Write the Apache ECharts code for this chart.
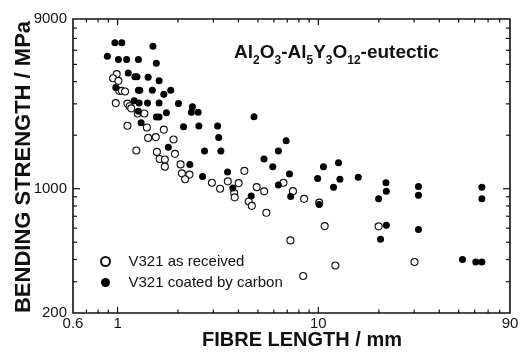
<!DOCTYPE html>
<html>
<head>
<meta charset="utf-8">
<script src="https://cdn.jsdelivr.net/npm/echarts@6/dist/echarts.min.js"></script>
<style>
  html, body { margin: 0; padding: 0; background: #fff; }
  #chart { width: 530px; height: 358px; }
</style>
</head>
<body>
<div id="chart"></div>
<script>
// Bending strength of Al2O3-Al5Y3O12 eutectic fibres vs. fibre length
const asReceivedLength = [0.99, 0.95, 1.01, 1.02, 1.05, 1.09, 0.98, 1.12, 1.15, 1.17,
  1.26, 1.36, 1.12, 1.40, 1.70, 1.42, 1.55, 1.90, 1.24, 1.57,
  1.62, 1.72, 1.93, 1.72, 2.06, 2.09, 2.28, 2.17, 2.95, 3.24,
  3.54, 3.81, 3.83, 4.01, 4.28, 4.50, 4.66, 4.93, 5.37, 5.51,
  6.70, 7.47, 8.49, 10.1, 7.26, 10.75, 19.95, 12.15, 8.40, 30.1];
const asReceivedStrength = [4410, 4180, 4040, 3550, 3550, 3520, 3030, 3010, 2910, 2830,
  2650, 2650, 2260, 2210, 2150, 1930, 1950, 1890, 1640, 1610,
  1470, 1460, 1570, 1330, 1370, 1220, 1200, 1130, 1080, 1000,
  1100, 945, 894, 1075, 1260, 848, 801, 1020, 966, 732,
  1080, 969, 877, 835, 512, 616, 614, 370, 323, 387];

const coatedLength = [0.89, 0.97, 1.05, 1.01, 1.11, 1.27, 1.50, 1.56, 1.13, 1.22,
  1.25, 1.42, 1.61, 0.98, 1.27, 1.29, 1.49, 1.70, 1.84, 1.21,
  1.28, 1.41, 1.61, 2.01, 2.36, 2.33, 2.52, 1.27, 1.56, 1.61,
  1.75, 1.31, 2.13, 2.54, 3.15, 4.78, 3.19, 1.79, 2.71, 3.27,
  2.29, 2.65, 3.53, 6.91, 6.32, 5.36, 5.93, 7.18, 10.6, 12.6,
  9.92, 12.8, 15.8, 11.9, 21.7, 21.8, 19.95, 31.5, 31.5, 65.2,
  65.2, 3.75, 6.32, 4.63, 7.28, 10.1, 21.8, 20.4, 31.5, 52.2,
  60.8, 65.2];
const coatedStrength = [5565, 6610, 6610, 5320, 5320, 5330, 6330, 5080, 4480, 4260,
  4260, 4240, 4040, 3710, 3580, 3580, 3580, 3400, 3580, 3120,
  3030, 3030, 3030, 3010, 2890, 2690, 2690, 2730, 2530, 2530,
  2670, 2350, 2230, 2250, 2250, 2540, 1940, 1710, 1630, 1630,
  1370, 1170, 1240, 1860, 1630, 1470, 1330, 1210, 1330, 1400,
  1140, 1130, 1160, 1020, 1080, 966, 877, 1030, 920, 1020,
  877, 1010, 1050, 909, 905, 814, 622, 519, 590, 400,
  387, 387];

// Axis ranges, ticks and labels
const lengthRange = [0.6, 90];
const strengthRange = [200, 9000];
const lengthLabels = [0.6, 1, 10, 90];
const lengthMajorTicks = [1, 10];
const lengthMinorTicks = [0.7, 0.8, 0.9, 2, 3, 4, 5, 6, 7, 8, 9, 20, 30, 40, 50, 60, 70, 80];
const strengthLabels = [200, 1000, 9000];
const strengthMajorTicks = [1000];
const strengthMinorTicks = [300, 400, 500, 600, 700, 800, 900, 2000, 3000, 4000, 5000, 6000, 7000, 8000];

const FONT = '"Liberation Sans", Arial, sans-serif';
const INK = '#111';
const pairs = (xs, ys) => xs.map((x, i) => [x, ys[i]]);
const fmt = v => String(+(+v).toPrecision(6));

// Inward tick marks on all four sides of the frame: [x, y, length, side(0 = x, 1 = y)]
const tickRows = [].concat(
  lengthMajorTicks.map(v => [v, 1000, 6, 0]),
  lengthMinorTicks.map(v => [v, 1000, 3.5, 0]),
  strengthMajorTicks.map(v => [1, v, 7, 1]),
  strengthMinorTicks.map(v => [1, v, 4, 1])
);
const tickStyle = { stroke: INK, lineWidth: 1.2 };
function renderTick(params, api) {
  const len = api.value(2);
  if (api.value(3) === 0) {
    const v = api.value(0);
    const b = api.coord([v, strengthRange[0]]);
    const t = api.coord([v, strengthRange[1]]);
    return { type: 'group', children: [
      { type: 'line', shape: { x1: b[0], y1: b[1], x2: b[0], y2: b[1] - len }, style: tickStyle },
      { type: 'line', shape: { x1: t[0], y1: t[1], x2: t[0], y2: t[1] + len }, style: tickStyle }
    ] };
  }
  const v = api.value(1);
  const l = api.coord([lengthRange[0], v]);
  const r = api.coord([lengthRange[1], v]);
  return { type: 'group', children: [
    { type: 'line', shape: { x1: l[0], y1: l[1], x2: l[0] + len, y2: l[1] }, style: tickStyle },
    { type: 'line', shape: { x1: r[0], y1: r[1], x2: r[0] - len, y2: r[1] }, style: tickStyle }
  ] };
}

const chart = echarts.init(document.getElementById('chart'), null, { renderer: 'canvas' });
chart.setOption({
  animation: false,
  textStyle: { fontFamily: FONT },
  grid: {
    left: 73, right: 20, top: 19, bottom: 45,
    containLabel: false, outerBoundsMode: 'none',
    show: true, borderColor: INK, borderWidth: 1.6, backgroundColor: 'transparent'
  },
  title: {
    text: 'Al{s|2}O{s|3}-Al{s|5}Y{s|3}O{s|12}-eutectic',
    left: 229, top: 37,
    textStyle: {
      fontFamily: FONT, fontSize: 19, fontWeight: 'bold', color: INK,
      lineHeight: 22, verticalAlign: 'top',
      rich: {
        s: { fontFamily: FONT, fontSize: 12, fontWeight: 'bold', color: INK,
             lineHeight: 12, verticalAlign: 'top', padding: [13, 0, 0, 0] }
      }
    }
  },
  legend: {
    orient: 'vertical', left: 95, top: 249,
    itemWidth: 36, itemHeight: 9, itemGap: 6,
    textStyle: { fontFamily: FONT, fontSize: 15, color: INK },
    data: ['V321 as received', 'V321 coated by carbon']
  },
  graphic: [
    { type: 'text', x: 302, y: 340, silent: true,
      style: { text: 'FIBRE LENGTH / mm', fill: INK, fontFamily: FONT, fontSize: 20, fontWeight: 'bold',
               align: 'center', verticalAlign: 'middle', textAlign: 'center', textVerticalAlign: 'middle' } },
    { type: 'text', x: 24, y: 167, rotation: Math.PI / 2, silent: true,
      style: { text: 'BENDING STRENGTH / MPa', fill: INK, fontFamily: FONT, fontSize: 22, fontWeight: 'bold',
               align: 'center', verticalAlign: 'middle', textAlign: 'center', textVerticalAlign: 'middle' } }
  ],
  xAxis: {
    type: 'log', logBase: 10, min: lengthRange[0], max: lengthRange[1],
    axisLine: { show: false }, axisTick: { show: false }, splitLine: { show: false },
    axisLabel: { show: true, customValues: lengthLabels, margin: 3, formatter: fmt,
                 fontFamily: FONT, fontSize: 15, color: INK }
  },
  yAxis: {
    type: 'log', logBase: 10, min: strengthRange[0], max: strengthRange[1],
    axisLine: { show: false }, axisTick: { show: false }, splitLine: { show: false },
    axisLabel: { show: true, customValues: strengthLabels, margin: 6, formatter: fmt,
                 fontFamily: FONT, fontSize: 15, color: INK }
  },
  series: [
    {
      name: 'V321 as received', type: 'scatter',
      symbol: 'circle', symbolSize: 7, z: 3,
      itemStyle: { color: '#fff', borderColor: INK, borderWidth: 1.1, opacity: 1 },
      data: pairs(asReceivedLength, asReceivedStrength)
    },
    {
      name: 'V321 coated by carbon', type: 'scatter',
      symbol: 'circle', symbolSize: 7, z: 4,
      itemStyle: { color: '#000', opacity: 1 },
      data: pairs(coatedLength, coatedStrength)
    },
    {
      name: 'frame ticks', type: 'custom', silent: true, clip: false, z: 5,
      renderItem: renderTick,
      data: tickRows
    }
  ]
});
</script>
</body>
</html>
